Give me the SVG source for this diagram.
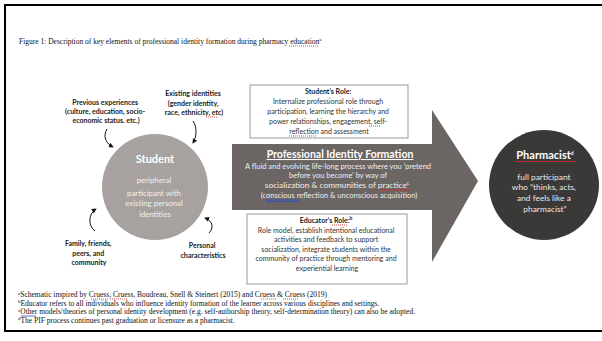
<svg xmlns="http://www.w3.org/2000/svg" width="602" height="341" viewBox="0 0 602 341">
  <defs>
    <marker id="tip" viewBox="0 0 6 6" refX="5" refY="3" markerWidth="5" markerHeight="5" orient="auto" markerUnits="userSpaceOnUse">
      <path d="M0,0 L6,3 L0,6 Z" fill="#111"/>
    </marker>
  </defs>
  <style>
    .serif{font-family:"Liberation Serif","Times New Roman",serif;fill:#111}
    .sans{font-family:Lato,"Open Sans",sans-serif}
    .lbl{font-size:7px;font-weight:700;fill:#1a1a1a;text-anchor:middle}
    .box{fill:#fff;stroke:#9a9a9a;stroke-width:1}
    .boxt{font-size:7px;fill:#333;text-anchor:middle}
    .curve{fill:none;stroke:#111;stroke-width:1;marker-end:url(#tip)}
    .squig{fill:none;stroke:#d02020;stroke-width:0.8;stroke-dasharray:1 1}
    .blue{fill:none;stroke:#3050c0;stroke-width:0.8}
    .foot{font-size:7.5px}
    .sup{font-size:5px}
  </style>

  <!-- page and frame -->
  <rect x="0" y="0" width="602" height="341" fill="#fff"/>
  <path d="M4,5 H602 M5,4 V332 M4,331 H602" stroke="#000" stroke-width="2" fill="none"/>

  <!-- caption -->
  <text class="serif" x="19" y="44" font-size="7.5">Figure 1: Description of key elements of professional identity formation during pharmacy education<tspan class="sup" dy="-3">a</tspan></text>
  <path class="squig" d="M289,46 H318"/>

  <!-- student node -->
  <g id="student">
    <circle cx="155" cy="187" r="53" fill="#a7a2a0"/>
    <text class="sans" x="155" y="163" font-size="11" font-weight="700" fill="#fff" text-anchor="middle">Student</text>
    <text class="sans" font-size="7.8" fill="#f2f0ef" text-anchor="middle">
      <tspan x="155" y="183">peripheral</tspan>
      <tspan x="155" y="196">participant with</tspan>
      <tspan x="155" y="206">existing personal</tspan>
      <tspan x="155" y="217">identities</tspan>
    </text>
  </g>

  <!-- influences on the student -->
  <g id="previous-experiences">
    <text class="sans lbl">
      <tspan x="106" y="105">Previous experiences</tspan>
      <tspan x="106" y="114">(culture, education, socio-</tspan>
      <tspan x="106" y="123">economic status. etc.)</tspan>
    </text>
  </g>
  <g id="existing-identities">
    <text class="sans lbl">
      <tspan x="194" y="96">Existing identities</tspan>
      <tspan x="194" y="106">(gender identity,</tspan>
      <tspan x="194" y="115">race, ethnicity, etc)</tspan>
    </text>
    <path class="squig" d="M206,117 H217"/>
  </g>
  <g id="family">
    <text class="sans lbl">
      <tspan x="89" y="246">Family, friends,</tspan>
      <tspan x="89" y="256">peers, and</tspan>
      <tspan x="89" y="265">community</tspan>
    </text>
  </g>
  <g id="personal-characteristics">
    <text class="sans lbl">
      <tspan x="203" y="248">Personal</tspan>
      <tspan x="203" y="258">characteristics</tspan>
    </text>
  </g>

  <!-- process arrow -->
  <g id="pif">
    <polygon points="232,144 432,144 432,110 478,181 432,262 432,210 232,210" fill="#6b6564"/>
    <text class="sans" x="340" y="158" font-size="10.5" font-weight="700" fill="#fff" text-anchor="middle" text-decoration="underline">Professional Identity Formation</text>
    <text class="sans" font-size="7.5" fill="#f0eeee" text-anchor="middle">
      <tspan x="339" y="169">A fluid and evolving life-long process where you ‘pretend</tspan>
      <tspan x="339" y="178">before you become’ by way of</tspan>
      <tspan x="338" y="188" font-size="8.3">socialization &amp; communities of practice<tspan class="sup" dy="-3">c</tspan></tspan>
      <tspan x="339" y="198">(conscious reflection &amp; unconscious acquisition)</tspan>
    </text>
    <path class="squig" d="M378,190 H409"/>
    <path class="blue" d="M266,200 H299 M266,201.5 H299"/>
  </g>

  <!-- role boxes -->
  <g id="student-role">
    <rect class="box" x="250" y="85" width="158" height="53"/>
    <text class="sans boxt">
      <tspan x="329" y="94" font-weight="700" fill="#1a1a1a">Student’s Role:</tspan>
      <tspan x="329" y="104">Internalize professional role through</tspan>
      <tspan x="329" y="114">participation, learning the hierarchy and</tspan>
      <tspan x="329" y="124">power relationships, engagement, self-</tspan>
      <tspan x="329" y="134">reflection and assessment</tspan>
    </text>
    <path class="blue" stroke-dasharray="1 1" d="M369,126 H381 M289,136 H317"/>
  </g>
  <g id="educator-role">
    <rect class="box" x="247" y="214" width="160" height="70"/>
    <text class="sans boxt">
      <tspan x="327" y="223" font-weight="700" fill="#1a1a1a">Educator’s Role:<tspan class="sup" dy="-3">b</tspan></tspan>
      <tspan x="327" y="233">Role model, establish intentional educational</tspan>
      <tspan x="327" y="242">activities and feedback to support</tspan>
      <tspan x="327" y="252">socialization, integrate students within the</tspan>
      <tspan x="327" y="261">community of practice through mentoring and</tspan>
      <tspan x="327" y="271">experiential learning</tspan>
    </text>
    <path class="squig" d="M332,225 H347"/>
  </g>

  <!-- pharmacist node -->
  <g id="pharmacist">
    <circle cx="544" cy="185" r="55" fill="#3b3838"/>
    <text class="sans" x="545" y="159" font-size="11" font-weight="700" fill="#fff" text-anchor="middle">Pharmacist<tspan class="sup" font-size="6.5" dy="-4">d</tspan></text>
    <path d="M515,161.5 H576" stroke="#c0282b" stroke-width="1"/>
    <text class="sans" font-size="8.4" fill="#ebe9e9" text-anchor="middle">
      <tspan x="545" y="180">full participant</tspan>
      <tspan x="545" y="190">who “thinks, acts,</tspan>
      <tspan x="545" y="201">and feels like a</tspan>
      <tspan x="545" y="212">pharmacist”</tspan>
    </text>
  </g>

  <!-- connectors: curved influence arrows -->
  <g id="connectors">
    <path class="curve" d="M107,129 C103,136 105,143 113,147"/>
    <path class="curve" d="M193,121 C197,127 197,136 193,143"/>
    <path class="curve" d="M95,231 C88,226 88,214 96,209"/>
    <path class="curve" d="M209,233 C214,228 213,221 205,218"/>
  </g>

  <!-- footnotes -->
  <g id="footnotes" class="serif foot">
    <text x="18" y="297"><tspan class="sup" dy="-2.5">a</tspan><tspan dy="2.5">Schematic inspired by Cruess, Cruess, Boudreau, Snell &amp; Steinert (2015) and Cruess &amp; Cruess (2019)</tspan></text>
    <text x="18" y="305.5"><tspan class="sup" dy="-2.5">b</tspan><tspan dy="2.5">Educator refers to all individuals who influence identity formation of the learner across various disciplines and settings.</tspan></text>
    <text x="18" y="314"><tspan class="sup" dy="-2.5">c</tspan><tspan dy="2.5">Other models/theories of personal identity development (e.g. self-authorship theory, self-determination theory) can also be adopted.</tspan></text>
    <text x="18" y="322.5"><tspan class="sup" dy="-2.5">d</tspan><tspan dy="2.5">The PIF process continues past graduation or licensure as a pharmacist.</tspan></text>
    <path class="squig" d="M91,299 H108 M110,299 H127 M261,299 H277 M283,299 H298"/>
    <path class="blue" d="M21,316 H36"/>
  </g>
</svg>
